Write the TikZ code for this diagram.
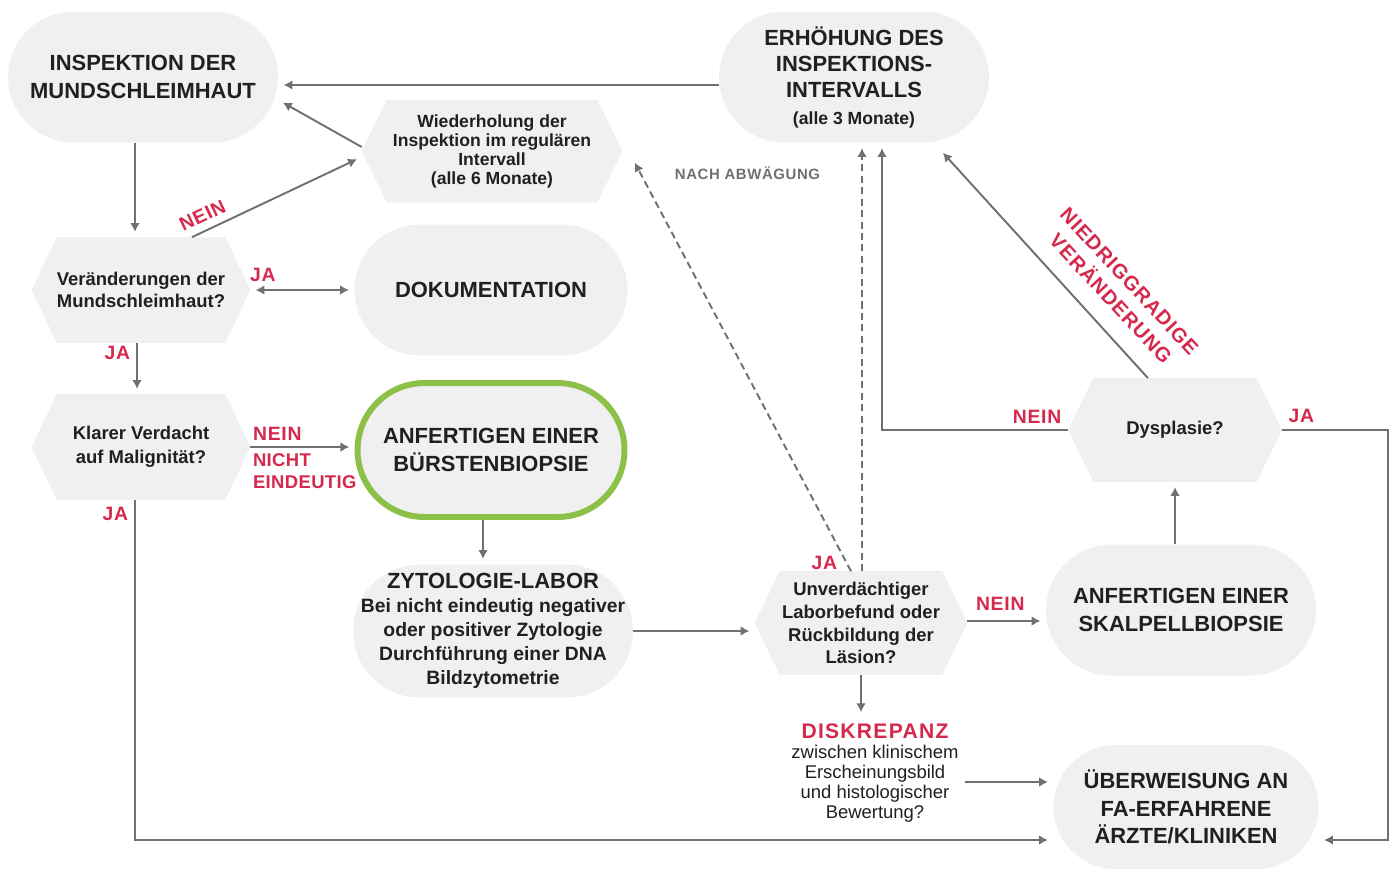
\documentclass[tikz,border=0pt]{standalone}
\usepackage{fontspec}
\setmainfont{Liberation Sans}
\usetikzlibrary{arrows.meta,backgrounds,positioning}
\definecolor{hellgrau}{RGB}{240,240,240}
\definecolor{pfeilgrau}{RGB}{112,112,112}
\definecolor{textgrau}{RGB}{32,32,32}
\definecolor{rot}{RGB}{214,40,76}
\definecolor{gruen}{RGB}{141,192,72}
\tikzset{
  stadium/.style={rectangle, rounded corners=1.31cm, fill=hellgrau, minimum width=5.4cm,
    minimum height=2.62cm, align=center, text=textgrau,
    font=\fontsize{12.5}{15.5}\selectfont\bfseries},
  sechseck/.style={rectangle, minimum width=4.36cm, minimum height=2.1cm, align=center,
    text=textgrau, font=\fontsize{10.5}{13}\selectfont\bfseries},
  pfeil/.style={draw=pfeilgrau, line width=1.1pt, shorten >=3pt,
    -{Latex[length=5pt,width=5.5pt]}},
  marke/.style={text=rot, font=\fontsize{11}{13}\selectfont\bfseries\addfontfeature{LetterSpace=4}},
  grauemarke/.style={text=pfeilgrau, font=\fontsize{8.5}{10}\selectfont\bfseries\addfontfeature{LetterSpace=4}},
}
\begin{document}
\begin{tikzpicture}[x=0.02cm, y=-0.02cm]
\useasboundingbox (0,0) rectangle (1391,869);
% Stationen
\node[stadium] (inspektion) at (143,77) {INSPEKTION DER\\MUNDSCHLEIMHAUT};
\node[stadium, font=\fontsize{12.5}{15}\selectfont\bfseries] (erhoehung) at (854,77)
  {ERHÖHUNG DES\\INSPEKTIONS-\\INTERVALLS\\{\fontsize{10}{12}\selectfont (alle 3 Monate)}};
\node[stadium, minimum width=5.46cm] (doku) at (491,290) {DOKUMENTATION};
\node[stadium, draw=gruen, line width=3.4pt, minimum width=5.34cm, minimum height=2.68cm,
  rounded corners=1.34cm] (buerste) at (491,450) {ANFERTIGEN EINER\\BÜRSTENBIOPSIE};
\node[stadium, minimum width=5.6cm, minimum height=2.66cm, rounded corners=1.33cm,
  font=\fontsize{11}{13.7}\selectfont\bfseries] (labor) at (493,631)
  {{\fontsize{12.5}{13.7}\selectfont ZYTOLOGIE-LABOR}\\Bei nicht eindeutig negativer\\oder positiver Zytologie\\Durchführung einer DNA\\Bildzytometrie};
\node[stadium] (skalpell) at (1181,610) {ANFERTIGEN EINER\\SKALPELLBIOPSIE};
\node[stadium, minimum width=5.3cm, minimum height=2.48cm, rounded corners=1.24cm] (ueberw)
  at (1186,807) {ÜBERWEISUNG AN\\FA-ERFAHRENE\\ÄRZTE/KLINIKEN};
% Entscheidungen
\node[sechseck, minimum width=5.2cm, minimum height=2.04cm,
  font=\fontsize{10}{10.8}\selectfont\bfseries] (wiederh) at (492,151)
  {Wiederholung der\\Inspektion im regulären\\Intervall\\(alle 6 Monate)};
\node[sechseck, font=\fontsize{10.5}{12.5}\selectfont\bfseries] (veraend) at (141,290)
  {Veränderungen der\\Mundschleimhaut?};
\node[sechseck, font=\fontsize{10.5}{13.7}\selectfont\bfseries] (verdacht) at (141,447)
  {Klarer Verdacht\\auf Malignität?};
\node[sechseck, minimum width=4.24cm, minimum height=2.06cm] (befund) at (861,623)
  {Unverdächtiger\\Laborbefund oder\\Rückbildung der\\Läsion?};
\node[sechseck, minimum width=4.26cm, minimum height=2.06cm] (dysplasie) at (1175,430)
  {Dysplasie?};
\node[align=center, text=textgrau, font=\fontsize{10.5}{11.4}\selectfont] (diskrepanz) at (875,773)
  {{\color{rot}\fontsize{12}{14}\selectfont\bfseries\addfontfeature{LetterSpace=6}DISKREPANZ}\\zwischen klinischem\\Erscheinungsbild\\und histologischer\\Bewertung?};
\begin{scope}[on background layer]
\foreach \h in {wiederh,veraend,verdacht,befund,dysplasie}
  \fill[hellgrau] (\h.west) -- ([xshift=0.5cm]\h.north west) -- ([xshift=-0.5cm]\h.north east)
    -- (\h.east) -- ([xshift=-0.5cm]\h.south east) -- ([xshift=0.5cm]\h.south west) -- cycle;
\end{scope}
\coordinate (unten) at (0,840);
\coordinate (rechts) at (1388,0);
% Pfeile
\draw[pfeil] ([yshift=-0.16cm]erhoehung.west) -- ([yshift=-0.16cm]erhoehung.west -| inspektion.east);
\draw[pfeil] ([yshift=0.08cm]wiederh.west) -- ([yshift=-0.46cm]inspektion.east);
\draw[pfeil] ([xshift=-0.16cm]inspektion.south) -- ([xshift=-0.16cm]inspektion.south |- veraend.north);
\draw[pfeil] ([xshift=1.02cm]veraend.north) -- node[marke, pos=0.1, above=1pt, sloped] {NEIN}
  ([yshift=-0.12cm]wiederh.west);
\draw[pfeil, shorten <=3pt, {Latex[length=5pt,width=5.5pt]}-{Latex[length=5pt,width=5.5pt]}]
  (veraend.east) -- node[marke, pos=0.12, above=1pt] {JA} (doku.west);
\draw[pfeil] ([xshift=-0.08cm]veraend.south) -- node[marke, pos=0.2, left] {JA}
  ([xshift=-0.08cm]veraend.south |- verdacht.north);
\draw[pfeil] (verdacht.east) -- node[marke, pos=0, anchor=south west, inner xsep=1pt] {NEIN}
  node[marke, pos=0, anchor=north west, align=left, inner xsep=1pt,
    font=\fontsize{10.5}{12.5}\selectfont\bfseries\addfontfeature{LetterSpace=2}] {NICHT\\EINDEUTIG}
  (verdacht.east -| buerste.west);
\draw[pfeil] ([xshift=-0.12cm]verdacht.south) -- node[marke, pos=0.04, left] {JA}
  ([xshift=-0.12cm]verdacht.south |- unten) -- (unten -| ueberw.west);
\draw[pfeil] ([xshift=-0.16cm]buerste.south) -- ([xshift=-0.16cm]buerste.south |- labor.north);
\draw[pfeil] (labor.east) -- (labor.east -| befund.west);
\draw[pfeil] ([yshift=0.04cm]befund.east) -- node[marke, pos=0.42, above=2pt] {NEIN}
  ([yshift=0.04cm]befund.east -| skalpell.west);
\draw[pfeil, dashed, dash pattern=on 4pt off 2.5pt] ([xshift=-0.2cm]befund.north)
  -- node[marke, pos=0, anchor=east, xshift=-4pt, yshift=4.5pt] {JA}
  ([shift={(0.2cm,-0.14cm)}]wiederh.east);
\draw[pfeil, dashed, dash pattern=on 4pt off 2.5pt] ([xshift=0.02cm]befund.north)
  -- node[grauemarke, pos=0.93, left=20pt] {NACH ABWÄGUNG}
  ([xshift=0.02cm]befund.north |- erhoehung.south);
\draw[pfeil] (befund.south) -- (befund.south |- diskrepanz.north);
\draw[pfeil] ([yshift=-0.18cm]diskrepanz.east) -- ([yshift=-0.18cm]diskrepanz.east -| ueberw.west);
\draw[pfeil] ([xshift=-0.12cm]skalpell.north) -- ([xshift=-0.12cm]skalpell.north |- dysplasie.south);
\draw[pfeil] ([xshift=-0.54cm]dysplasie.north) -- ([shift={(-1cm,-0.12cm)}]erhoehung.south east);
\node[marke, rotate=-47, align=center, font=\fontsize{11.5}{14.5}\selectfont\bfseries\addfontfeature{LetterSpace=5}]
  (niedrig) at (1120,290) {NIEDRIGGRADIGE\\VERÄNDERUNG};
\draw[pfeil] (dysplasie.west) -| node[marke, pos=0, anchor=south east] {NEIN}
  ([xshift=0.56cm]erhoehung.south);
\draw[pfeil] (dysplasie.east) -- node[marke, pos=0, anchor=south west] {JA}
  (dysplasie.east -| rechts) -- (rechts |- unten) -- (unten -| ueberw.east);
\end{tikzpicture}
\end{document}
